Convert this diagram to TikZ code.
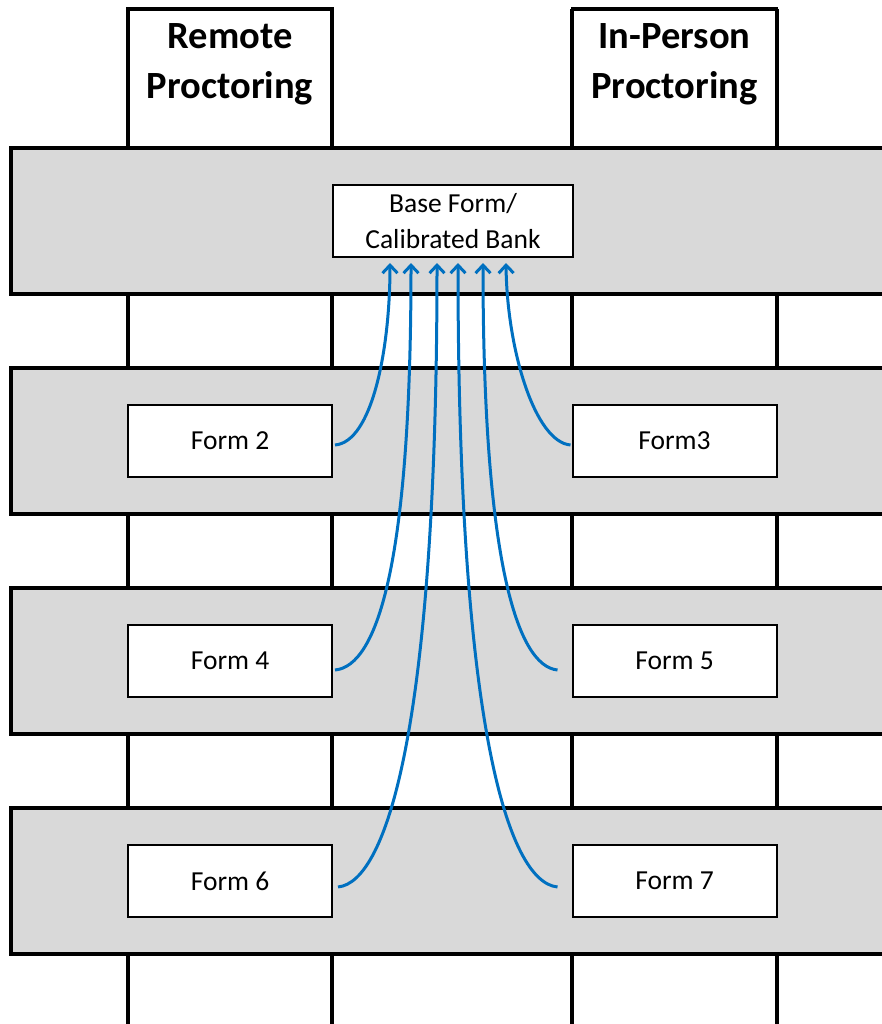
\documentclass[tikz,border=0pt]{standalone}
\usepackage{fontspec}
\setmainfont{Carlito}
\usetikzlibrary{arrows.meta}
\definecolor{bandgray}{HTML}{D9D9D9}
\definecolor{linkblue}{HTML}{0070C0}
\begin{document}
\begin{tikzpicture}[x=1pt,y=-1pt,
  lane/.style={line width=3.2pt},
  band/.style={fill=bandgray,draw=black,line width=3.2pt},
  header/.style={draw,line width=3.2pt,minimum width=204pt,minimum height=139pt,inner sep=0pt},
  headtext/.style={align=center,font=\fontsize{38.5}{50}\selectfont\bfseries},
  formbox/.style={draw,fill=white,line width=2pt,minimum width=204pt,minimum height=72pt,inner sep=0pt,font=\fontsize{27.5}{30}\selectfont},
  basebox/.style={draw,fill=white,line width=2pt,minimum width=240pt,minimum height=72pt,inner sep=0pt,align=center,font=\fontsize{27.5}{36}\selectfont},
  link/.style={draw=linkblue,line width=3pt,-{Straight Barb[length=8pt,width=15pt,line width=3pt]}}
]
\useasboundingbox (0,0) rectangle (882,1024);
\clip (0,0) rectangle (882,1024);
% lane verticals
\draw[lane] (128,9) -- (128,1030);
\draw[lane] (332,9) -- (332,1030);
\draw[lane] (572,9) -- (572,1030);
\draw[lane] (777,9) -- (777,1030);
% headers
\node[header] (hremote) at (230,78.5) {};
\node[header] (hperson) at (674.5,78.5) {};
\node[headtext] (tremote) at (230,64) {Remote\\Proctoring};
\node[headtext] (tperson) at (674.5,64) {In-Person\\Proctoring};
% bands
\draw[band] (11,148) rectangle (900,294);
\draw[band] (11,368) rectangle (900,514);
\draw[band] (11,588) rectangle (900,734);
\draw[band] (11,808) rectangle (900,954);
% boxes
\node[basebox] (base) at (453,221) {Base Form/\\Calibrated Bank};
\node[formbox] (f2) at (230,441) {Form 2};
\node[formbox] (f3) at (674.5,441) {Form3};
\node[formbox] (f4) at (230,661) {Form 4};
\node[formbox] (f5) at (674.5,661) {Form 5};
\node[formbox] (f6) at (230,881) {Form 6};
\node[formbox] (f7) at (674.5,881) {Form 7};
% connectors
\draw[link] ([xshift=2pt,yshift=-4pt]f2.east) .. controls (372,442) and (390,350) .. ([xshift=-63pt,yshift=-5pt]base.south);
\draw[link] ([xshift=2pt,yshift=-9pt]f4.east) .. controls (378,666) and (411,560) .. ([xshift=-42pt,yshift=-5pt]base.south);
\draw[link] ([xshift=5pt,yshift=-6pt]f6.east) .. controls (388,882) and (437,720) .. ([xshift=-16pt,yshift=-5pt]base.south);
\draw[link] ([xshift=-14pt,yshift=-6pt]f7.west) .. controls (507,882) and (458,720) .. ([xshift=5pt,yshift=-5pt]base.south);
\draw[link] ([xshift=-14pt,yshift=-9pt]f5.west) .. controls (517,666) and (483,560) .. ([xshift=30pt,yshift=-5pt]base.south);
\draw[link] ([xshift=-1pt,yshift=-4pt]f3.west) .. controls (535,442) and (507,350) .. ([xshift=53pt,yshift=-5pt]base.south);
\end{tikzpicture}
\end{document}
